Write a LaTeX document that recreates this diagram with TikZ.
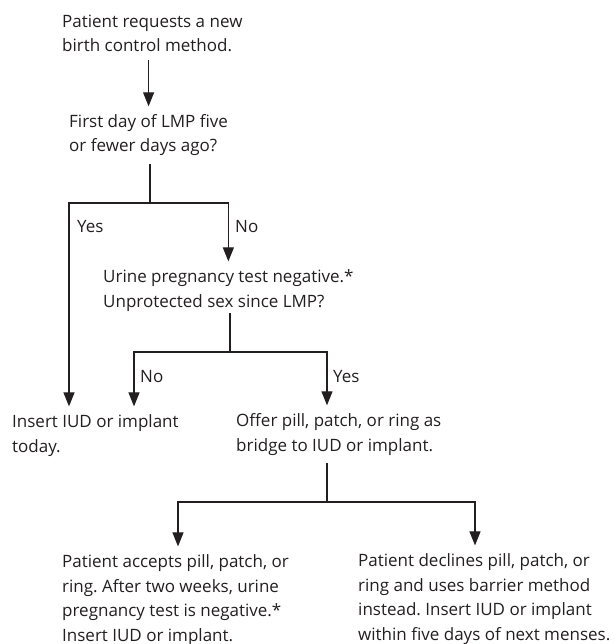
\documentclass[tikz,border=0pt]{standalone}
\usepackage{fontspec}
\setmainfont{Open Sans}
\usetikzlibrary{shapes,arrows,arrows.meta,positioning,calc}
\frenchspacing
\definecolor{inkgray}{HTML}{231F20}

\begin{document}
\begin{tikzpicture}[x=1pt, y=-1pt]

% Define styles
\tikzstyle{textnode} = [anchor=base west, align=left, inner xsep=0pt, inner ysep=8pt, text=inkgray, font=\fontsize{17}{24.5}\selectfont]
\tikzstyle{answer} = [anchor=base west, inner sep=0pt, text=inkgray, font=\fontsize{17}{24.5}\selectfont]
\tikzstyle{arrow} = [draw=inkgray, line width=1.2pt, -{Triangle[length=14pt, width=11pt]}]
\tikzstyle{line} = [draw=inkgray, line width=1.2pt]

\useasboundingbox (0,0) rectangle (615,644);

% Steps and questions (placed at the baseline of their last line)
\node (request) [textnode] at (62,52) {Patient requests a new\\birth control method.};
\node (lmp) [textnode] at (69,152) {First day of LMP five\\or fewer days ago?};
\node (urine) [textnode] at (103,307) {Urine pregnancy test negative.*\\Unprotected sex since LMP?};
\node (insert) [textnode] at (12,452) {Insert IUD or implant\\today.};
\node (offer) [textnode] at (236,451) {Offer pill, patch, or ring as\\bridge to IUD or implant.};
\node (accept) [textnode] at (62,641) {Patient accepts pill, patch, or\\ring. After two weeks, urine\\pregnancy test is negative.*\\Insert IUD or implant.};
\node (decline) [textnode] at (358,640) {Patient declines pill, patch, or\\ring and uses barrier method\\instead. Insert IUD or implant\\within five days of next menses.};

% Top arrow
\draw [arrow] (request.south -| lmp.south) -- (lmp.north);

% First split: LMP
\coordinate (split1) at (150,203);
\draw [line] (split1 |- lmp.south) -- (split1);
\draw [arrow] (split1) -| (lmp.south west |- insert.north);
\draw [arrow] (split1) -| (urine.north);
\node (yes1) [answer] at (77,233) {Yes};
\node (no1) [answer] at (235,233) {No};

% Second split: unprotected sex
\coordinate (split2) at (230,352);
\coordinate (no2) at (134,352);
\coordinate (yes2) at (327,352);
\draw [line, shorten <=-6pt] (split2 |- urine.south) -- (split2);
\draw [arrow] (split2) -| (no2 |- insert.north);
\draw [arrow] (split2) -| (yes2 |- offer.north);
\node (no2label) [answer] at (140,382) {No};
\node (yes2label) [answer] at (333,382) {Yes};

% Third split: bridge method
\coordinate (split3) at (327,502);
\coordinate (left3) at (178,502);
\coordinate (right3) at (475,502);
\draw [line] (split3 |- offer.south) -- (split3);
\draw [arrow] (split3) -| (left3 |- accept.north);
\draw [arrow] (split3) -| (right3 |- decline.north);

\end{tikzpicture}
\end{document}
